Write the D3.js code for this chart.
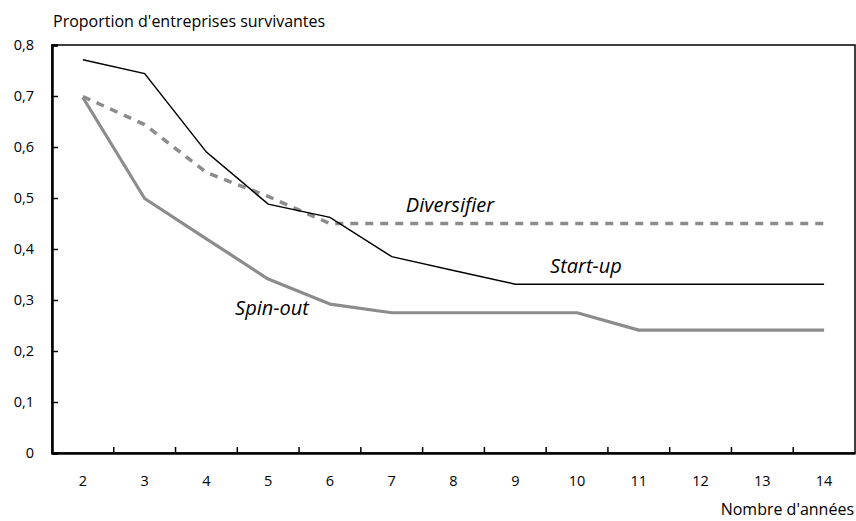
<!DOCTYPE html>
<html><head><meta charset="utf-8">
<script src="https://cdn.jsdelivr.net/npm/d3@7"></script>
<style>body{margin:0;background:#fff}svg{display:block}text{font-family:"Open Sans",sans-serif;fill:#000}</style>
</head><body><svg id="c" width="856" height="521"></svg>
<script>
const years = [2,3,4,5,6,7,8,9,10,11,12,13,14];
const startUp = [0.771,0.744,0.590,0.488,0.462,0.385,0.358,0.331,0.331,0.331,0.331,0.331,0.331];
const spinOut = [0.697,0.499,0.420,0.341,0.292,0.275,0.275,0.275,0.275,0.241,0.241,0.241,0.241];
const diversifier = [0.699,0.644,0.550,0.503,0.450,0.450,0.450,0.450,0.450,0.450,0.450,0.450,0.450];
const yTicks = [0,0.1,0.2,0.3,0.4,0.5,0.6,0.7,0.8];

const svg = d3.select("#c");
const L=52,R=855,T=45,B=453;
const FF = "'Open Sans',sans-serif";
const x = d3.scaleBand().domain(years).range([L,R]);
const y = d3.scaleLinear().domain([0,0.8]).range([B,T]);
const fmt = d => d===0 ? "0" : d3.format(".1f")(d).replace(".",",");

svg.append("rect").attr("x",L).attr("y",T).attr("width",R-L).attr("height",B-T)
  .attr("fill","none").attr("stroke","#000").attr("stroke-width",1.5);

const ya = svg.append("g").attr("transform",`translate(${L},0)`)
  .call(d3.axisLeft(y).tickValues(yTicks).tickFormat(fmt).tickSize(-6).tickPadding(18));
ya.select(".domain").attr("stroke-width",2.5);
ya.selectAll(".tick line").attr("stroke-width",1.5);
ya.selectAll("text").attr("font-size",14.5).attr("font-family",FF);

const xa = svg.append("g").attr("transform",`translate(0,${B})`)
  .call(d3.axisBottom(x).tickSize(0).tickPadding(23));
xa.select(".domain").attr("stroke-width",2.5);
xa.selectAll("text").attr("font-size",14.5).attr("font-family",FF);
svg.append("g").selectAll("line").data(years.slice(1)).join("line")
  .attr("x1",d=>x(d)).attr("x2",d=>x(d)).attr("y1",B).attr("y2",B-6)
  .attr("stroke","#000").attr("stroke-width",1.5);

const line = d3.line().x((d,i)=>x(years[i])+x.bandwidth()/2).y(d=>y(d));
svg.append("path").datum(diversifier).attr("d",line).attr("fill","none")
  .attr("stroke","#8c8c8c").attr("stroke-width",3.5).attr("stroke-dasharray","8,7");
svg.append("path").datum(spinOut).attr("d",line).attr("fill","none")
  .attr("stroke","#8c8c8c").attr("stroke-width",3.2).attr("stroke-linejoin","round");
svg.append("path").datum(startUp).attr("d",line).attr("fill","none")
  .attr("stroke","#000").attr("stroke-width",1.5);

const lab = (t,xx,yy,anchor,fs,it)=>svg.append("text").attr("x",xx).attr("y",yy)
  .attr("text-anchor",anchor).attr("font-size",fs).attr("font-style",it?"italic":"normal").text(t);
lab("Diversifier",450,212,"middle",20,true);
lab("Start-up",586,273,"middle",20,true);
lab("Spin-out",272,315,"middle",20,true);
lab("Proportion d'entreprises survivantes",53,27,"start",16,false);
lab("Nombre d'années",854,515,"end",16,false);
</script></body></html>
